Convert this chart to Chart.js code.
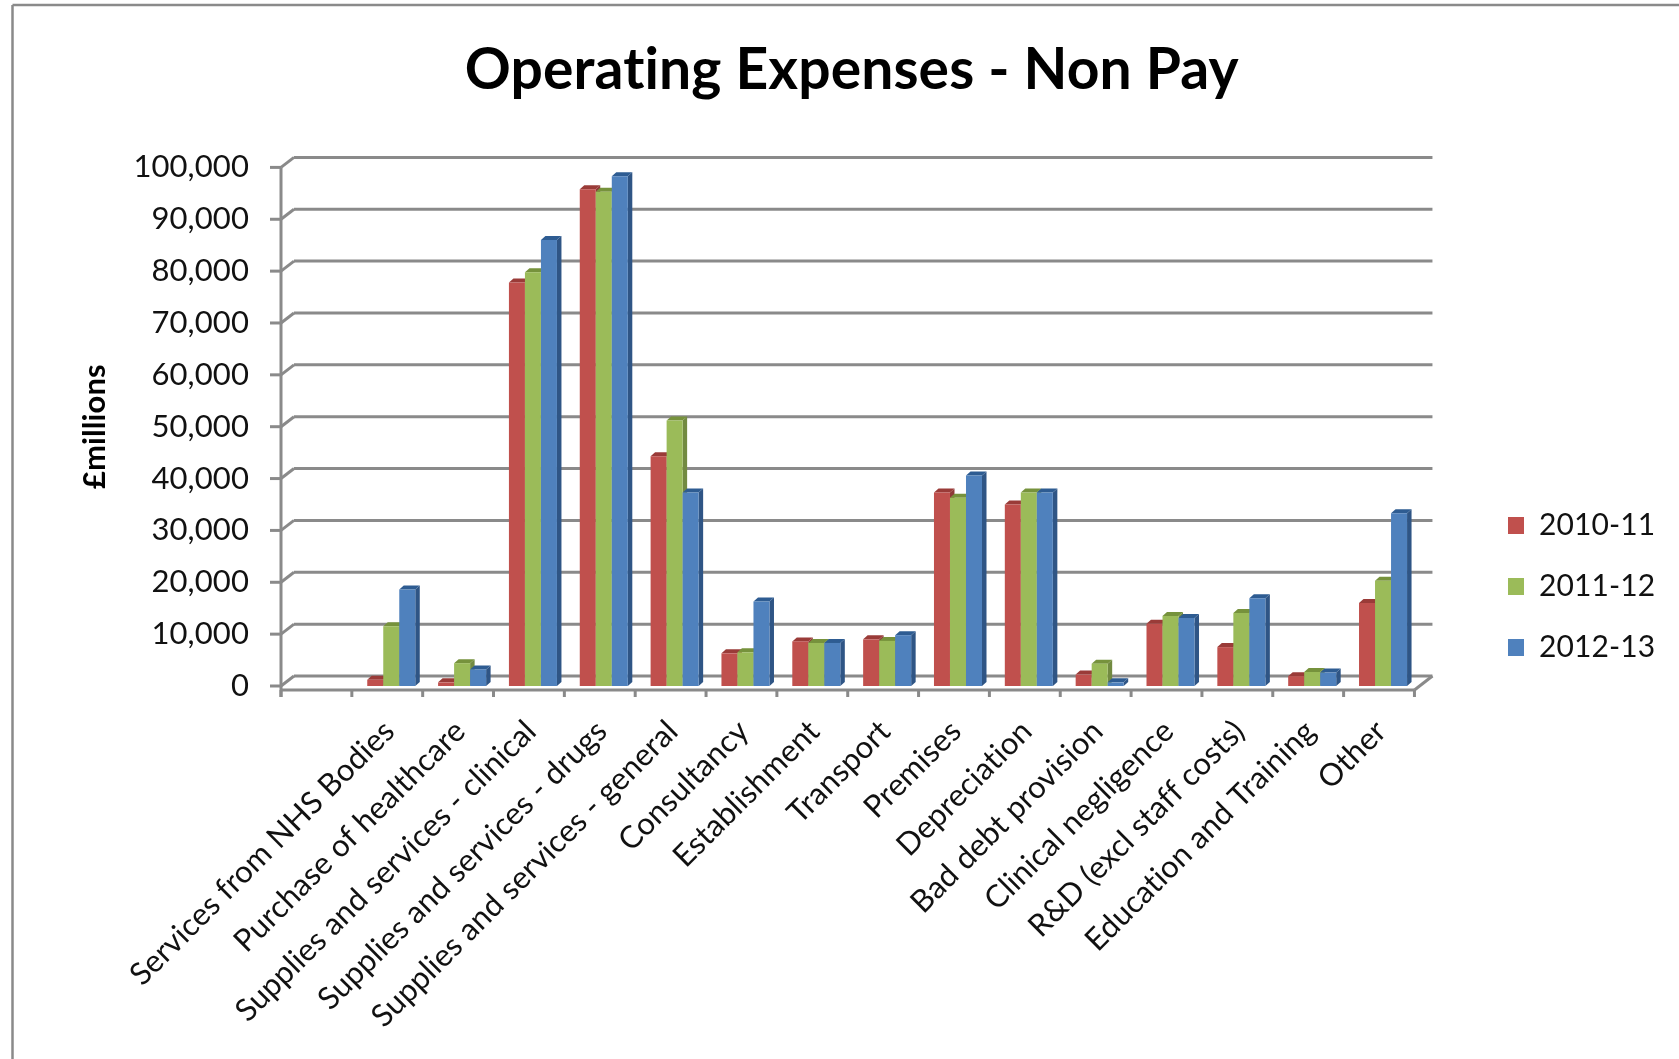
<!DOCTYPE html>
<html>
<head>
<meta charset="utf-8">
<title>Operating Expenses - Non Pay</title>
<script src="https://cdn.jsdelivr.net/npm/chart.js@4/dist/chart.umd.min.js"></script>
<style>
  html, body { margin: 0; padding: 0; background: #fff; }
  canvas { display: block; }
</style>
</head>
<body>
<canvas id="expensesChart" width="1679" height="1059"></canvas>
<script>
// the first slot is left blank on purpose, the axis starts with an empty category
const categories = ['', 'Services from NHS Bodies', 'Purchase of healthcare', 'Supplies and services - clinical',
    'Supplies and services - drugs', 'Supplies and services - general', 'Consultancy', 'Establishment',
    'Transport', 'Premises', 'Depreciation', 'Bad debt provision', 'Clinical negligence',
    'R&D (excl staff costs)', 'Education and Training', 'Other'];
const seriesNames = ['2010-11', '2011-12', '2012-13'];
const values2010 = [null, 1200, 700, 77800, 95800, 44300, 6300, 8600, 9000, 37300, 35000, 2200, 12000, 7500, 1900, 16000];
const values2011 = [null, 11500, 4400, 79800, 95300, 51200, 6500, 8300, 8700, 36300, 37300, 4300, 13500, 14100, 2700, 20300];
const values2012 = [null, 18600, 3200, 86000, 98300, 37300, 16300, 8300, 9800, 40600, 37300, 700, 13100, 16900, 2600, 33300];
const frontColors = ['#C0504D', '#9BBB59', '#4F81BD'];
const sideColors = ['#8E3A38', '#728A41', '#2F5585'];
const topColors = ['#9A3B38', '#76923C', '#2E5C92'];

const fontName = 'Lato, "Open Sans", sans-serif';
const gridGray = '#8A8A8A';

// depth of the fake 3d look
const barDepthX = 4.5, barDepthY = 4;
const wallDepthX = 13, wallDepthY = 10;
const axisShift = 4;   // axis line sits a little left of the plot box
const legendPadding = 31;

function line(ctx, x1, y1, x2, y2) {
    ctx.beginPath();
    ctx.moveTo(x1, y1);
    ctx.lineTo(x2, y2);
    ctx.stroke();
}

function poly(ctx, pts, color) {
    ctx.fillStyle = color;
    ctx.beginPath();
    pts.forEach((p, i) => i ? ctx.lineTo(p[0], p[1]) : ctx.moveTo(p[0], p[1]));
    ctx.closePath();
    ctx.fill();
}

const depthPlugin = {
    id: 'depthPlugin',
    beforeDraw(chart) {
        const ctx = chart.ctx;
        // a tiny spacing stops the canvas from joining "ti" into a ligature,
        // has to be set here since chart.js resets the canvas when it sizes it
        ctx.letterSpacing = '0.1px';

        // outer frame, only top and left edges are in view
        ctx.save();
        ctx.strokeStyle = '#8A8A8A';
        ctx.lineWidth = 2.5;
        line(ctx, 12.5, 1059, 12.5, 5);
        line(ctx, 12.5, 5, 1679, 5);
        ctx.restore();
    },
    beforeDatasetsDraw(chart) {
        const ctx = chart.ctx;
        const x = chart.scales.x, y = chart.scales.y;
        const step = x.width / categories.length;
        const axisX = x.left - axisShift;
        const axisRight = x.right - axisShift;
        const floorY = y.getPixelForValue(0) + 4;
        const wallRight = axisRight + 18;

        ctx.save();
        ctx.strokeStyle = gridGray;
        ctx.lineWidth = 3;
        y.ticks.forEach(t => {
            const py = y.getPixelForValue(t.value);
            line(ctx, axisX - 11, py, axisX, py);
            line(ctx, axisX, py, axisX + wallDepthX, py - wallDepthY);
            line(ctx, axisX + wallDepthX, py - wallDepthY, wallRight, py - wallDepthY);
        });
        line(ctx, axisX, y.top, axisX, floorY + 7);
        line(ctx, axisX, floorY, axisRight, floorY);
        line(ctx, axisRight, floorY, wallRight, y.getPixelForValue(0) - wallDepthY);
        for (let i = 0; i <= categories.length; i++) {
            const px = axisX + i * step;
            line(ctx, px, floorY, px, floorY + 7);
        }
        ctx.restore();

        // bars go left to right so each front covers the side of the one before
        chart.data.datasets.forEach((ds, d) => {
            chart.getDatasetMeta(d).data.forEach((bar, i) => {
                if (ds.data[i] === null) return;
                const right = bar.x + bar.width / 2, left = bar.x - bar.width / 2;
                poly(ctx, [[right, bar.y], [right + barDepthX, bar.y - barDepthY],
                    [right + barDepthX, bar.base - barDepthY], [right, bar.base]], sideColors[d]);
                poly(ctx, [[left, bar.y], [left + barDepthX, bar.y - barDepthY],
                    [right + barDepthX, bar.y - barDepthY], [right, bar.y]], topColors[d]);
                bar.draw(ctx);
            });
        });
        return false;
    },
    afterLayout(chart) {
        // the key sits low on the right, below the middle of the plot
        const legend = chart.legend;
        const dy = 586.5 - (legend.top + legend.bottom) / 2;
        legend.top += dy;
        legend.bottom += dy;
        const dx = 1508 - legendPadding - legend.left;
        legend.left += dx;
        legend.right += dx;
    }
};

new Chart(document.getElementById('expensesChart').getContext('2d'), {
    type: 'bar',
    plugins: [depthPlugin],
    data: {
        labels: categories,
        datasets: [values2010, values2011, values2012].map((vals, i) => ({
            label: seriesNames[i],
            data: vals,
            backgroundColor: frontColors[i],
            borderWidth: 0,
            categoryPercentage: 0.678,
            barPercentage: 1
        }))
    },
    options: {
        responsive: false,
        animation: false,
        layout: { padding: { left: 76, top: 0, right: 73, bottom: 0 } },
        plugins: {
            title: {
                display: true,
                text: 'Operating Expenses - Non Pay',
                fullSize: false,
                color: '#000',
                font: { family: fontName, size: 57, weight: 'bold' },
                padding: { top: 36, bottom: 63 }
            },
            legend: {
                position: 'right',
                labels: {
                    color: '#111',
                    boxWidth: 16,
                    boxHeight: 17,
                    padding: legendPadding,
                    font: { family: fontName, size: 30 }
                }
            },
            tooltip: { enabled: false }
        },
        scales: {
            x: {
                offset: true,
                grid: { display: false },
                border: { display: false },
                ticks: {
                    autoSkip: false,
                    minRotation: 45,
                    maxRotation: 45,
                    padding: 19,
                    labelOffset: -2,
                    color: '#111',
                    font: { family: fontName, size: 31 }
                },
                afterFit(scale) { scale.height = 373; }
            },
            y: {
                min: 0,
                max: 100000,
                grid: { display: false },
                border: { display: false },
                ticks: {
                    stepSize: 10000,
                    padding: 28,
                    color: '#111',
                    font: { family: fontName, size: 31 },
                    callback: v => v.toLocaleString('en-US')
                },
                title: {
                    display: true,
                    text: '£millions',
                    color: '#000',
                    padding: 0,
                    font: { family: fontName, size: 31, weight: 'bold' }
                },
                afterFit(scale) { scale.width = 209; }
            }
        }
    }
});
</script>
</body>
</html>
